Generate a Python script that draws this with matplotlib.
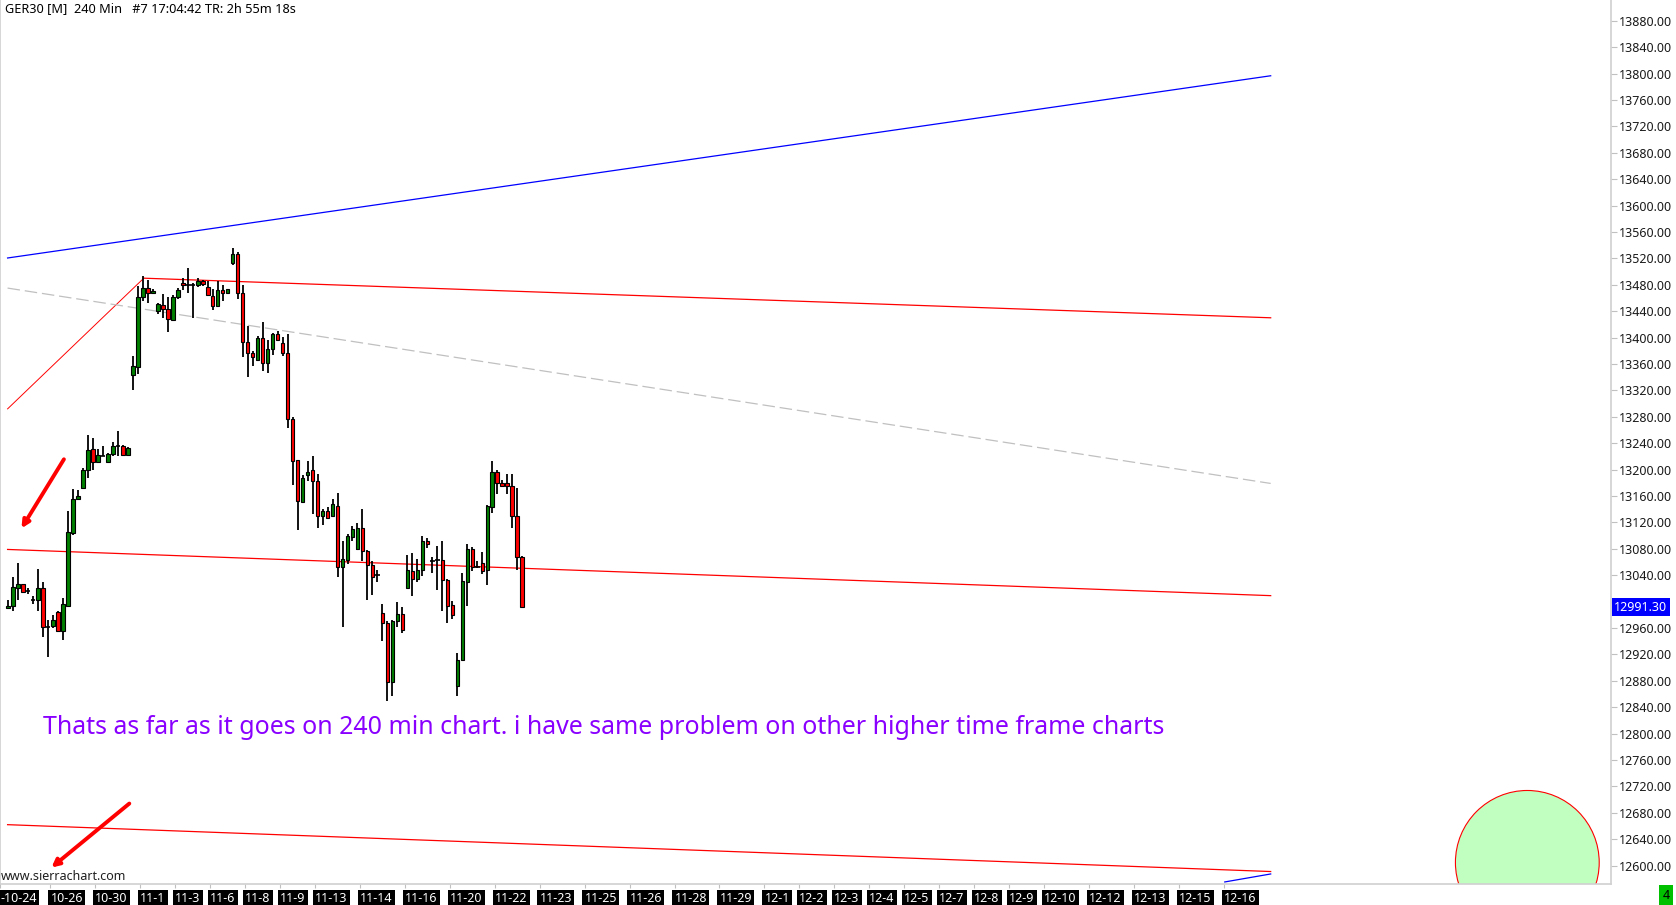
import numpy as np
import matplotlib
matplotlib.use("Agg")
import matplotlib.pyplot as plt
from matplotlib.patches import Ellipse

plt.rcParams['font.family'] = ['Noto Sans', 'DejaVu Sans']
plt.rcParams['lines.scale_dashes'] = False

# 240 min GER30 candles (bar index = position)
opens = [12990, 12993, 13021, 13026, 13016, 13003, 13002, 13021, 12962, 12963,
         12984, 12955, 12994, 13104, 13155, 13172, 13200, 13231, 13212, 13221,
         13211, 13224, 13235, 13235, 13222, 13343, 13356, 13462, 13475, 13467,
         13440, 13450, 13443, 13427, 13462, 13483, 13479, 13479, 13479, 13486,
         13477, 13463, 13448, 13472, 13467, 13513, 13527, 13468, 13394, 13377,
         13366, 13399, 13361, 13383, 13405, 13392, 13377, 13276, 13214, 13151,
         13192, 13199, 13183, 13130, 13137, 13129, 13145, 13053, 13063, 13098,
         13079, 13111, 13077, 13055, 13041, 12982, 12968, 12878, 12971, 12981,
         13020, 13047, 13034, 13048, 13092, 13061, 13063, 13063, 13033, 12995,
         12872, 12912, 13029, 13080, 13053, 13058, 13048, 13144, 13196, 13179,
         13179, 13175, 13129, 13068]
highs = [13003, 13037, 13059, 13027, 13021, 13009, 13049, 13029, 12972, 12979,
         12985, 13005, 13138, 13171, 13169, 13202, 13253, 13248, 13231, 13235,
         13225, 13242, 13258, 13237, 13234, 13372, 13478, 13493, 13488, 13474,
         13453, 13466, 13461, 13465, 13475, 13490, 13506, 13483, 13491, 13488,
         13486, 13473, 13485, 13479, 13474, 13535, 13529, 13480, 13417, 13380,
         13402, 13423, 13396, 13407, 13410, 13401, 13405, 13279, 13215, 13192,
         13213, 13220, 13193, 13140, 13143, 13155, 13165, 13092, 13103, 13114,
         13119, 13140, 13078, 13061, 13048, 12997, 12971, 12972, 12999, 12992,
         13071, 13073, 13064, 13100, 13096, 13067, 13084, 13092, 13034, 13001,
         12922, 13044, 13088, 13082, 13061, 13075, 13146, 13213, 13199, 13184,
         13194, 13193, 13172, 13069]
lows = [12990, 12985, 13003, 13013, 13011, 12996, 12986, 12947, 12916, 12960,
        12955, 12942, 12993, 13101, 13155, 13172, 13187, 13200, 13210, 13220,
        13210, 13221, 13221, 13221, 13221, 13320, 13345, 13455, 13453, 13467,
        13436, 13429, 13409, 13425, 13459, 13472, 13468, 13430, 13476, 13478,
        13463, 13442, 13448, 13456, 13467, 13510, 13458, 13370, 13341, 13357,
        13366, 13349, 13347, 13373, 13395, 13372, 13263, 13177, 13108, 13151,
        13182, 13133, 13112, 13116, 13125, 13128, 13038, 12962, 13057, 13092,
        13078, 13062, 13002, 13010, 13030, 12941, 12849, 12857, 12961, 12953,
        13020, 13008, 13030, 13039, 13081, 13044, 13017, 12985, 12968, 12973,
        12857, 12911, 12993, 13047, 13051, 13042, 13025, 13134, 13163, 13175,
        13163, 13112, 13048, 12991.3]
closes = [12994, 13022, 13026, 13015, 13016, 13003, 13021, 12962, 12962, 12972,
          12955, 12997, 13105, 13155, 13160, 13200, 13230, 13212, 13222, 13221,
          13224, 13235, 13235, 13222, 13232, 13357, 13461, 13475, 13467, 13470,
          13451, 13444, 13428, 13461, 13472, 13479, 13479, 13479, 13486, 13481,
          13464, 13448, 13472, 13468, 13473, 13527, 13468, 13394, 13376, 13371,
          13400, 13362, 13383, 13405, 13396, 13376, 13276, 13213, 13153, 13187,
          13197, 13183, 13130, 13138, 13126, 13148, 13053, 13064, 13099, 13110,
          13111, 13076, 13055, 13038, 13041, 12967, 12878, 12971, 12981, 12957,
          13048, 13034, 13048, 13092, 13087, 13061, 13063, 13033, 12994, 12979,
          12912, 13031, 13080, 13052, 13053, 13047, 13145, 13196, 13179, 13175,
          13175, 13129, 13067, 12991.3]
last_price = 12991.30

# date labels along the time axis (bar index of each tick)
date_ticks = [-1.1, 9, 18, 27, 34, 41, 48, 55, 62, 71, 80, 89, 98, 107, 116, 125,
              134, 143, 152, 159, 166, 173, 180, 187, 194, 201, 208, 217, 226,
              235, 244]
date_labels = ['-10-24', '10-26', '10-30', '11-1', '11-3', '11-6', '11-8', '11-9',
               '11-13', '11-14', '11-16', '11-20', '11-22', '11-23', '11-25',
               '11-26', '11-28', '11-29', '12-1', '12-2', '12-3', '12-4', '12-5',
               '12-7', '12-8', '12-9', '12-10', '12-12', '12-13', '12-15', '12-16']
price_ticks = list(range(12600, 13881, 40))

# drawn trend lines: (bar, price) end points
blue_upper = ([-0.08, 252.9], [13520.6, 13796.7])
blue_lower = ([243.7, 252.9], [12575.2, 12587.3])
red_rise = ([-0.08, 27.2], [13292, 13490])
red_upper = ([27.2, 252.9], [13490, 13430])
gray_mid = ([-0.08, 252.9], [13475, 13179])
red_mid = ([-0.08, 252.9], [13079, 13009])
red_low = ([-0.08, 252.9], [12662, 12591])
arrow1 = ((11.2, 13215.6), (2.7, 13111))
arrow2 = ((24.3, 12694), (8.7, 12597))
circle_center = (304.3, 12604.7)

note = ("Thats as far as it goes on 240 min chart. i have same problem on "
        "other higher time frame charts")
header = "GER30 [M]  240 Min   #7 17:04:42 TR: 2h 55m 18s"

W, H = 1676, 905
fig = plt.figure(figsize=(W / 100, H / 100), dpi=100)
ax = fig.add_axes([0, 21 / H, 1611 / W, 884 / H])
ax.set_xlim(-1.14, 321.06)
ax.set_ylim(12572.1, 13911.5)

x = np.arange(len(opens))
o = np.array(opens, float)
c = np.array(closes, float)

ax.vlines(x, lows, highs, color='black', lw=1.3, zorder=3)
up = c > o
dn = c < o
dj = c == o
ax.bar(x[up], (c - o)[up], bottom=o[up], width=0.72, color='#008000',
       edgecolor='black', lw=0.8, zorder=4)
ax.bar(x[dn], (o - c)[dn], bottom=c[dn], width=0.72, color='#ff0000',
       edgecolor='black', lw=0.8, zorder=4)
ax.hlines(c[dj], x[dj] - 0.45, x[dj] + 0.45, color='black', lw=1.2, zorder=4)

# trend lines
ax.plot(*blue_upper, color='#0000ff', lw=0.9, zorder=2)
ax.plot(*blue_lower, color='#0000ff', lw=0.9, zorder=2)
ax.plot(*red_rise, color='#ff0000', lw=0.7, zorder=2)
ax.plot(*red_upper, color='#ff0000', lw=0.9, zorder=2)
ax.plot(*gray_mid, color='#c0c0c0', lw=0.9, dashes=(9, 3.5), zorder=2)
ax.plot(*red_mid, color='#ff0000', lw=0.9, zorder=2)
ax.plot(*red_low, color='#ff0000', lw=0.9, zorder=2)

for start, end in (arrow1, arrow2):
    ax.annotate('', xy=end, xytext=start,
                arrowprops=dict(arrowstyle='-|>', color='#ff0000', lw=2.8,
                                mutation_scale=11, shrinkA=0, shrinkB=0))

ax.add_patch(Ellipse(circle_center, 28.8, 218.2, fc='#c0ffc0', ec='#ff0000',
                     lw=0.8, zorder=1))

# axes look
ax.spines['top'].set_visible(False)
for side in ('left', 'right', 'bottom'):
    ax.spines[side].set_color('#d0d0d0')
    ax.spines[side].set_linewidth(1.2)

# the last-price box sits on top of the 13000 label, so that label stays blank
ax.yaxis.tick_right()
ax.set_yticks(price_ticks,
              ['' if abs(p - last_price) < 20 else f'{p:.2f}' for p in price_ticks])
ax.tick_params(axis='y', length=4, width=0.8, color='#c0c0c0', pad=2,
               labelsize=9, labelcolor='#1a1a1a')
ax.set_xticks([t - 0.5 for t in date_ticks], date_labels)
ax.tick_params(axis='x', length=3, width=0.8, color='#c0c0c0', pad=3,
               labelsize=9, labelcolor='white')
for lbl in ax.get_xticklabels():
    lbl.set_horizontalalignment('left')
    lbl.set_bbox(dict(boxstyle='square,pad=0.18', fc='black', ec='none'))

# last price marker on the price scale
ax.text(1.002, last_price, f'{last_price:.2f}', transform=ax.get_yaxis_transform(),
        ha='left', va='center', fontsize=9, color='white', clip_on=False,
        zorder=10, bbox=dict(boxstyle='square,pad=0.2', fc='#0000ff', ec='none'))

t_note = ax.text(42.8 / 1611, 1 - 727 / 884, note, transform=ax.transAxes,
                 ha='left', va='center', fontsize=17, color='#8a00ff')
t_head = fig.text(5 / W, 1 - 9 / H, header, ha='left', va='center', fontsize=9,
                  color='black')
fig.text(1 / W, 1 - 876 / H, 'www.sierrachart.com', ha='left', va='center',
         fontsize=9, color='#202020')
fig.text(1666 / W, 1 - 895 / H, '4', ha='center', va='center', fontsize=9,
         color='black', bbox=dict(boxstyle='square,pad=0.25', fc='#00c000',
                                  ec='none'))

# fit the two free texts to the widths seen in the screenshot
fig.canvas.draw()
r = fig.canvas.get_renderer()
for t, target in ((t_note, 1122), (t_head, 290)):
    w = t.get_window_extent(r).width
    t.set_fontsize(t.get_fontsize() * target / w)

fig.savefig('out.png', dpi=100)
